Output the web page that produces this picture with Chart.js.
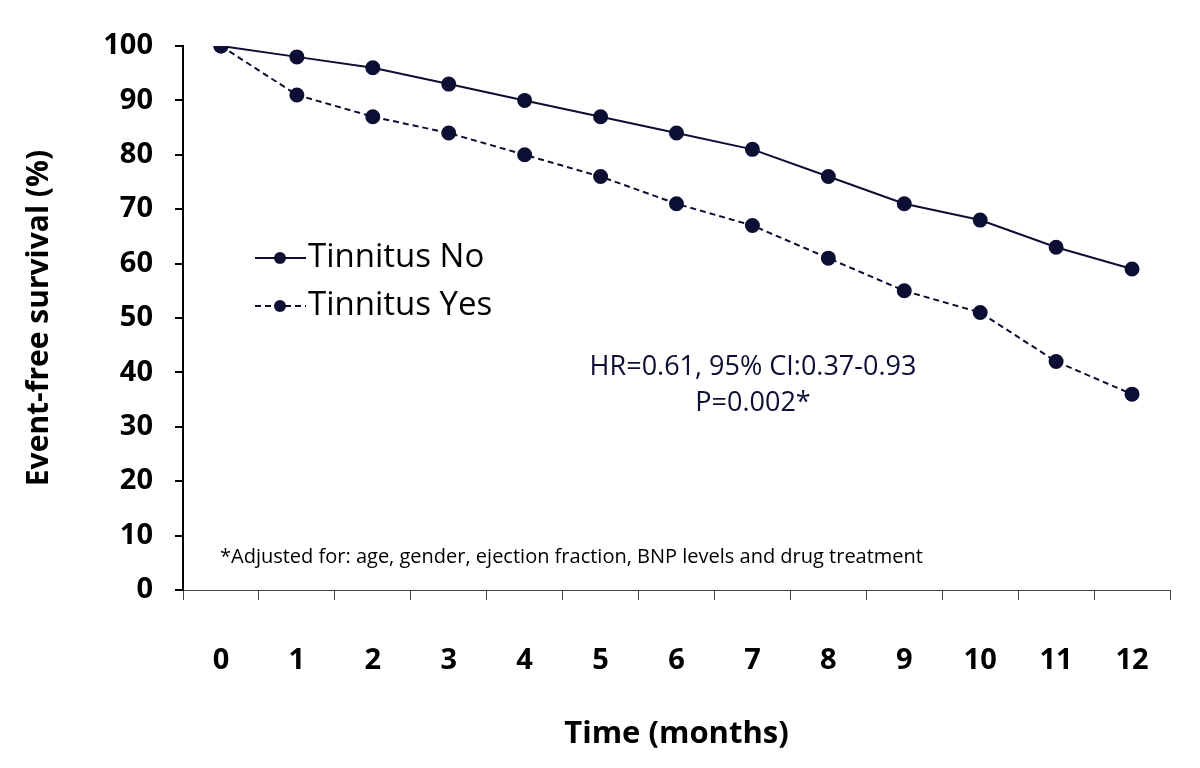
<!DOCTYPE html>
<html>
<head>
<meta charset="utf-8">
<script src="https://cdn.jsdelivr.net/npm/chart.js@4"></script>
<style>
  html, body { margin: 0; padding: 0; background: #fff; }
  #wrap { width: 1200px; height: 768px; }
</style>
</head>
<body>
<div id="wrap"><canvas id="survival"></canvas></div>
<script>
// values
const months = ["0", "1", "2", "3", "4", "5", "6", "7", "8", "9", "10", "11", "12"];
const tinnitusNo = [100, 98, 96, 93, 90, 87, 84, 81, 76, 71, 68, 63, 59];
const tinnitusYes = [100, 91, 87, 84, 80, 76, 71, 67, 61, 55, 51, 42, 36];
const yTicks = [0, 10, 20, 30, 40, 50, 60, 70, 80, 90, 100];

const statsLines = ["HR=0.61, 95% CI:0.37-0.93", "P=0.002*"];
const footnote = "*Adjusted for: age, gender, ejection fraction, BNP levels and drug treatment";

const navy = "#0c0f33";
const fontName = "'Open Sans', Lato, sans-serif";

// legend + texts inside the plot
const notesPlugin = {
  id: "notes",
  afterDraw(chart) {
    const ctx = chart.ctx;
    ctx.save();

    // legend
    chart.data.datasets.forEach((ds, i) => {
      const y = 258 + i * 48;
      ctx.strokeStyle = navy;
      ctx.lineWidth = 2;
      ctx.setLineDash(ds.borderDash || []);
      ctx.beginPath();
      ctx.moveTo(255, y);
      ctx.lineTo(306, y);
      ctx.stroke();
      ctx.setLineDash([]);
      ctx.fillStyle = navy;
      ctx.beginPath();
      ctx.arc(280, y, 6, 0, Math.PI * 2);
      ctx.fill();
      ctx.fillStyle = "#000";
      ctx.font = "33px " + fontName;
      ctx.textAlign = "left";
      ctx.textBaseline = "middle";
      ctx.fillText(ds.label, 308, y);
    });

    // HR box
    ctx.fillStyle = navy;
    ctx.font = "27px " + fontName;
    ctx.textAlign = "center";
    statsLines.forEach((t, i) => ctx.fillText(t, 753, 367 + i * 36));

    // footnote
    ctx.font = "20px " + fontName;
    ctx.textAlign = "left";
    ctx.fillStyle = "#000";
    ctx.fillText(footnote, 220, 557);

    ctx.restore();
  }
};

new Chart(document.getElementById("survival"), {
  type: "line",
  data: {
    labels: months,
    datasets: [
      {
        label: "Tinnitus No",
        data: tinnitusNo,
        borderColor: navy,
        backgroundColor: navy,
        borderWidth: 2,
        pointRadius: 6.5,
        tension: 0
      },
      {
        label: "Tinnitus Yes",
        data: tinnitusYes,
        borderColor: navy,
        backgroundColor: navy,
        borderWidth: 2,
        borderDash: [6, 4],
        pointRadius: 6.5,
        tension: 0
      }
    ]
  },
  options: {
    responsive: true,
    maintainAspectRatio: false,
    animation: false,
    layout: {
      padding: { top: 46, right: 30, bottom: 0, left: 0 }
    },
    plugins: {
      legend: { display: false },
      tooltip: { enabled: false }
    },
    scales: {
      x: {
        offset: true,
        grid: {
          offset: true,
          drawOnChartArea: false,
          tickLength: 10,
          color: "#444",
          lineWidth: 1
        },
        border: { color: "#444", width: 1 },
        ticks: {
          color: "#000",
          padding: 43,
          font: { family: fontName, size: 29, weight: "bold" }
        },
        title: {
          display: true,
          text: "Time (months)",
          color: "#000",
          font: { family: fontName, size: 31, weight: "bold" },
          padding: { top: 0, bottom: 15 }
        },
        afterFit: (scale) => { scale.height = 178; }
      },
      y: {
        min: 0,
        max: 100,
        afterBuildTicks: (scale) => { scale.ticks = yTicks.map(v => ({ value: v })); },
        grid: {
          drawOnChartArea: false,
          tickLength: 8,
          color: "#000",
          lineWidth: 2
        },
        border: { color: "#000", width: 2 },
        ticks: {
          color: "#000",
          padding: 22,
          font: { family: fontName, size: 29, weight: "bold" }
        },
        title: {
          display: true,
          text: "Event-free survival (%)",
          color: "#000",
          font: { family: fontName, size: 30, weight: "bold" },
          padding: { top: 21, bottom: 0 }
        },
        afterFit: (scale) => { scale.width = 183; }
      }
    }
  },
  plugins: [notesPlugin]
});
</script>
</body>
</html>
